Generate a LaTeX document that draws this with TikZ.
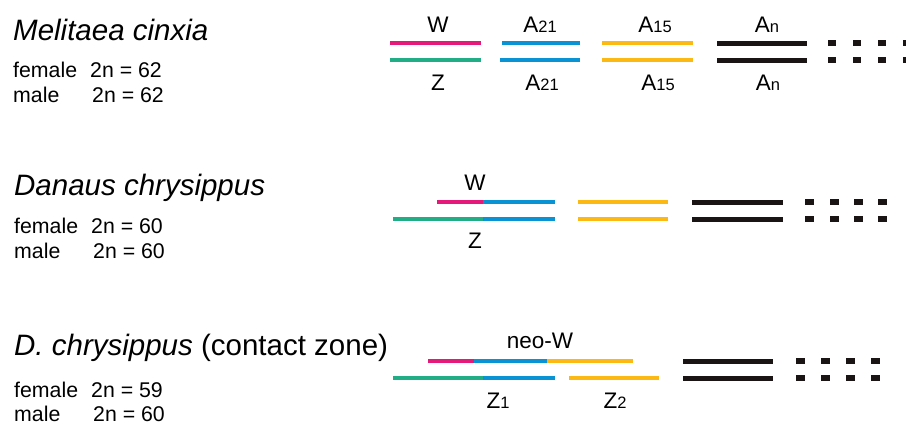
\documentclass[tikz,border=0pt]{standalone}
\usepackage{fontspec}
\setmainfont{Liberation Sans}
\definecolor{cpink}{HTML}{E5197A}
\definecolor{cgreen}{HTML}{21AE86}
\definecolor{cblue}{HTML}{0A93D4}
\definecolor{cyellow}{HTML}{FDB913}
\definecolor{cblack}{HTML}{1A1414}
\newcommand{\sbs}[1]{{\fontsize{16.5}{17}\selectfont #1}}
\tikzset{
  title/.style={anchor=base west, inner sep=0pt, font=\fontsize{29.5}{32}\selectfont\itshape},
  count/.style={anchor=base west, inner sep=0pt, font=\fontsize{21.3}{23}\selectfont},
  lab/.style={anchor=base, inner sep=0pt, font=\fontsize{22.5}{24}\selectfont},
  chr/.style={line width=4pt},
  chrb/.style={line width=5pt, cblack},
  dsh/.style={line width=5.5pt, cblack},
}
\begin{document}
\begin{tikzpicture}[x=1pt,y=-1pt]
\useasboundingbox (0,0) rectangle (906,426);
% left texts
\node[title] (t1) at (13,40) {Melitaea cinxia};
\node[count] (f1) at (13,77) {\makebox[77pt][l]{female}2n = 62};
\node[count] (m1) at (13,102) {\makebox[79pt][l]{male}2n = 62};
\node[title] (t2) at (14,195) {Danaus chrysippus};
\node[count] (f2) at (14,233) {\makebox[77pt][l]{female}2n = 60};
\node[count] (m2) at (14,258) {\makebox[79pt][l]{male}2n = 60};
\node[title] (t3) at (14,355) {D. chrysippus \normalfont(contact zone)};
\node[count] (f3) at (14,397) {\makebox[77pt][l]{female}2n = 59};
\node[count] (m3) at (14,421) {\makebox[79pt][l]{male}2n = 60};
% row 1
\draw[chr,cpink] (390,43) -- (481,43);
\draw[chr,cgreen] (390,60) -- (481,60);
\draw[chr,cblue] (502,43) -- (580,43);
\draw[chr,cblue] (500,60) -- (580,60);
\draw[chr,cyellow] (602,43) -- (693,43);
\draw[chr,cyellow] (602,60) -- (693,60);
\draw[chrb] (717,43) -- (807,43);
\draw[chrb] (717,60) -- (807,60);
\foreach \x in {828,853,878,903}{
  \draw[dsh] (\x,43) -- ++(8,0);
  \draw[dsh] (\x,60) -- ++(8,0);
}
\node[lab] (w1) at (438,32) {W};
\node[lab] (z1) at (438,90) {Z};
\node[lab] (a21t) at (540,32) {A\sbs{21}};
\node[lab] (a21b) at (542,90) {A\sbs{21}};
\node[lab] (a15t) at (655,32) {A\sbs{15}};
\node[lab] (a15b) at (658,90) {A\sbs{15}};
\node[lab] (ant) at (767,32) {A\sbs{n}};
\node[lab] (anb) at (768,90) {A\sbs{n}};
% row 2
\draw[chr,cpink] (437,202) -- (483,202);
\draw[chr,cblue] (483,202) -- (555,202);
\draw[chr,cgreen] (393,219) -- (483,219);
\draw[chr,cblue] (483,219) -- (555,219);
\draw[chr,cyellow] (578,202) -- (668,202);
\draw[chr,cyellow] (578,219) -- (668,219);
\draw[chrb] (692,202) -- (783,202);
\draw[chrb] (692,219) -- (783,219);
\foreach \x in {805,830,854,878}{
  \draw[dsh] (\x,202) -- ++(9,0);
  \draw[dsh] (\x,219) -- ++(9,0);
}
\node[lab] (w2) at (475,190) {W};
\node[lab] (z2) at (475,248) {Z};
% row 3
\draw[chr,cpink] (428,361) -- (474,361);
\draw[chr,cblue] (474,361) -- (547,361);
\draw[chr,cyellow] (547,361) -- (633,361);
\draw[chr,cgreen] (393,378) -- (483,378);
\draw[chr,cblue] (483,378) -- (555,378);
\draw[chr,cyellow] (569,378) -- (659,378);
\draw[chrb] (683,361) -- (773,361);
\draw[chrb] (683,378) -- (773,378);
\foreach \x in {796,821,846,871}{
  \draw[dsh] (\x,361) -- ++(9,0);
  \draw[dsh] (\x,378) -- ++(9,0);
}
\node[lab] (nw) at (540,348) {neo-W};
\node[lab] (zz1) at (498,408) {Z\sbs{1}};
\node[lab] (zz2) at (615,408) {Z\sbs{2}};
\end{tikzpicture}
\end{document}
